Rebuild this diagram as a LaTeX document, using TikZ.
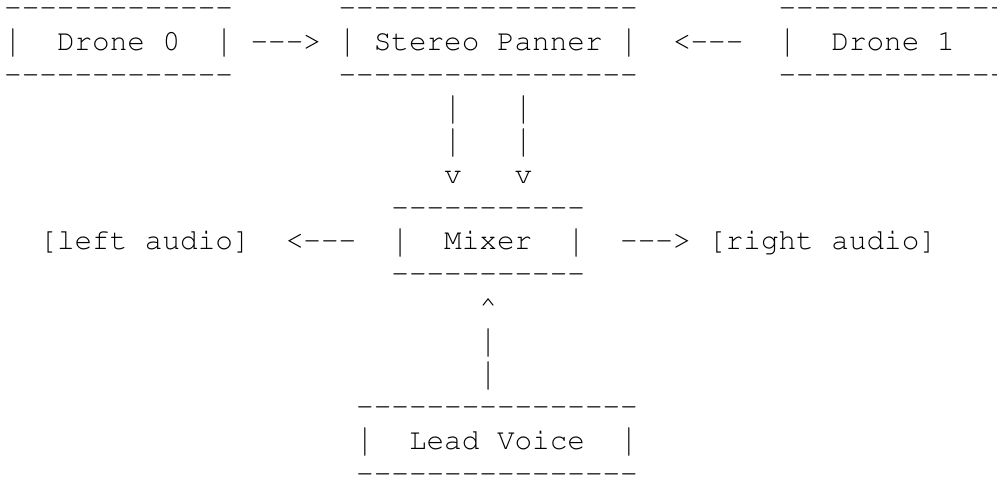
\documentclass[tikz,border=0pt]{standalone}
\usepackage[T1]{fontenc}
\usepackage{graphicx}

\tikzset{
	txt/.style={anchor=base west, inner sep=0pt, outer sep=0pt,
		font=\fontfamily{pcr}\fontsize{22}{24.94}\selectfont},
}
\newcommand{\dashes}[1]{\foreach \n in {1,...,#1}{-}}
\newcommand{\vbar}{\raisebox{-2.2pt}{\scalebox{1}[1.35]{|}}}

\begin{document}
\begin{tikzpicture}[x=13.2pt, y=-24.94pt]

	\clip (-3.15pt, -12.38pt) rectangle (744.6pt, -369.38pt);
	\fill[white] (-3.15pt, -12.38pt) rectangle (744.6pt, -369.38pt);

	% drone 0
	\node[txt] (d0top) at (0,1) {\dashes{13}};
	\node[txt] (d0l) at (0,2) {\vbar};
	\node[txt] (d0) at (3,2) {Drone 0};
	\node[txt] (d0r) at (12,2) {\vbar};
	\node[txt] (d0bot) at (0,3) {\dashes{13}};

	% arrow
	\node[txt] (a0) at (14,2) {\dashes{3}>};

	% stereo panner
	\node[txt] (pantop) at (19,1) {\dashes{17}};
	\node[txt] (panl) at (19,2) {\vbar};
	\node[txt] (pan) at (21,2) {Stereo Panner};
	\node[txt] (panr) at (35,2) {\vbar};
	\node[txt] (panbot) at (19,3) {\dashes{17}};

	% arrow
	\node[txt] (a1) at (38,2) {<\dashes{3}};

	% drone 1
	\node[txt] (d1top) at (44,1) {\dashes{13}};
	\node[txt] (d1l) at (44,2) {\vbar};
	\node[txt] (d1) at (47,2) {Drone 1};
	\node[txt] (d1r) at (56,2) {\vbar};
	\node[txt] (d1bot) at (44,3) {\dashes{13}};

	% panner to mixer
	\node[txt] (pl1) at (25,4) {\vbar};
	\node[txt] (pr1) at (29,4) {\vbar};
	\node[txt] (pl2) at (25,5) {\vbar};
	\node[txt] (pr2) at (29,5) {\vbar};
	\node[txt] (plv) at (25,6) {v};
	\node[txt] (prv) at (29,6) {v};

	% mixer
	\node[txt] (mixtop) at (22,7) {\dashes{11}};
	\node[txt] (mixl) at (22,8) {\vbar};
	\node[txt] (mix) at (25,8) {Mixer};
	\node[txt] (mixr) at (32,8) {\vbar};
	\node[txt] (mixbot) at (22,9) {\dashes{11}};

	% outputs
	\node[txt] (left) at (2,8) {[left audio]};
	\node[txt] (aleft) at (16,8) {<\dashes{3}};
	\node[txt] (aright) at (35,8) {\dashes{3}>};
	\node[txt] (right) at (40,8) {[right audio]};

	% lead to mixer
	\node[txt] (lup) at (27,10) {\textasciicircum};
	\node[txt] (l1) at (27,11) {\vbar};
	\node[txt] (l2) at (27,12) {\vbar};

	% lead voice
	\node[txt] (leadtop) at (20,13) {\dashes{16}};
	\node[txt] (leadl) at (20,14) {\vbar};
	\node[txt] (lead) at (23,14) {Lead Voice};
	\node[txt] (leadr) at (35,14) {\vbar};
	\node[txt] (leadbot) at (20,15) {\dashes{16}};

\end{tikzpicture}
\end{document}
